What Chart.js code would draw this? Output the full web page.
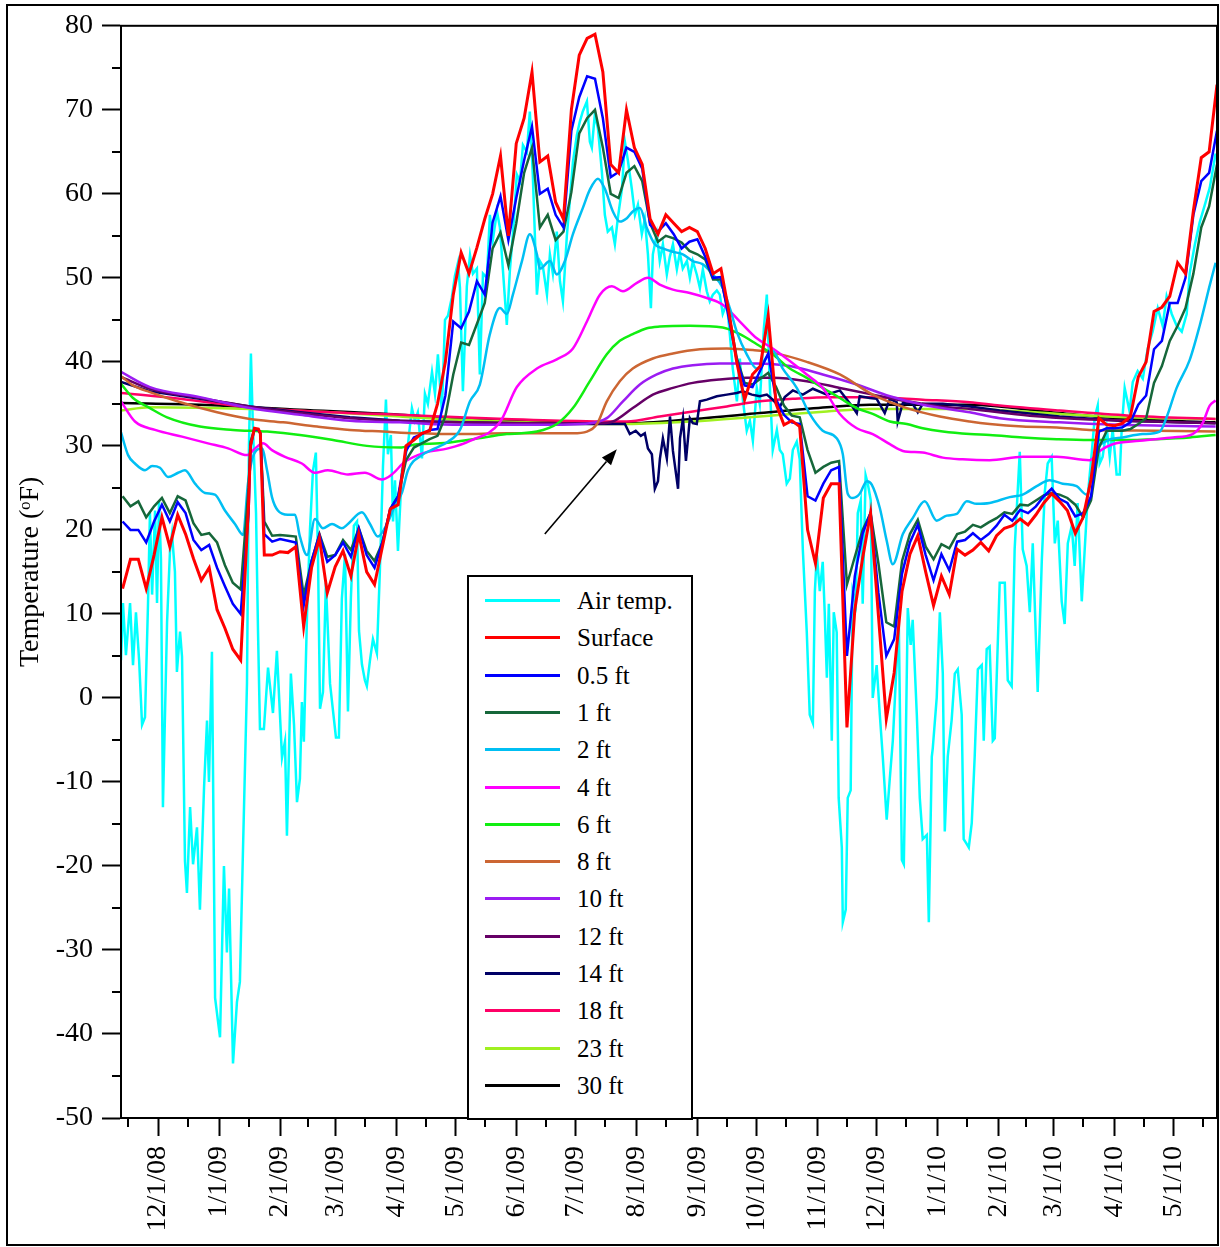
<!DOCTYPE html>
<html>
<head>
<meta charset="utf-8">
<title>Soil temperature by depth</title>
<script src="https://cdn.jsdelivr.net/npm/chart.js@4.4.1/dist/chart.umd.min.js"></script>
<style>
  html, body { margin: 0; padding: 0; background: #fff; }
  #wrap { position: relative; width: 1220px; height: 1247px; }
  #chart { position: absolute; left: 0; top: 0; }
  #legend {
    position: absolute; left: 467px; top: 575px; width: 226px; height: 545px;
    box-sizing: border-box; border: 2px solid #000; background: #fff;
    font-family: 'Liberation Serif', 'Times New Roman', serif;
  }
  .row { position: absolute; left: 0; width: 100%; height: 30px; }
  .row .swatch { position: absolute; left: 16px; top: 13px; width: 75px; height: 3px; }
  .row .txt { position: absolute; left: 108px; top: 0; font-size: 25px; line-height: 30px; color: #000; white-space: nowrap; }
</style>
</head>
<body>
<div id="wrap">
  <canvas id="chart" width="1220" height="1247"></canvas>
  <div id="legend"></div>
</div>
<script>
// x values are days counted from 12/1/2008
const xMin = -18.8;
const xMax = 538;

const monthDays = [0, 31, 62, 90, 121, 151, 182, 212, 243, 274, 304, 335, 365, 396, 427, 455, 486, 516];
const monthLabels = ['12/1/08', '1/1/09', '2/1/09', '3/1/09', '4/1/09', '5/1/09', '6/1/09', '7/1/09', '8/1/09',
  '9/1/09', '10/1/09', '11/1/09', '12/1/09', '1/1/10', '2/1/10', '3/1/10', '4/1/10', '5/1/10'];
const midMonthDays = [-15, 15, 46, 76, 105, 136, 166, 197, 227, 258, 289, 319, 350, 380, 411, 441, 470, 501, 531];
const yTicks = [-50, -40, -30, -20, -10, 0, 10, 20, 30, 40, 50, 60, 70, 80];

// air temperature
const airDays = [
  -18.8, -17.8, -16.3, -14.2, -12.7, -11.2, -9.6, -8.1, -6.6, -5.1,
  -4.1, -3.0, -1.5, -0.5, 0.5, 1.5, 2.5, 4.6, 6.1, 7.1,
  8.6, 9.6, 11.2, 12.2, 13.7, 14.7, 16.3, 17.8, 19.8, 21.3,
  23.4, 24.9, 25.9, 27.4, 29.0, 31.5, 33.5, 35.0, 36.1, 38.1,
  40.1, 41.6, 43.2, 45.2, 46.2, 47.2, 48.2, 49.8, 50.8, 51.8,
  53.8, 55.9, 58.4, 60.4, 63.0, 64.5, 65.5, 67.5, 69.1, 70.6,
  72.1, 73.1, 74.1, 75.7, 77.2, 78.7, 80.2, 81.3, 82.3, 83.8,
  85.3, 87.4, 88.9, 90.4, 91.9, 93.4, 95.0, 96.5, 98.0, 99.5,
  101.1, 102.1, 103.6, 105.1, 106.1, 107.7, 109.2, 111.2, 112.7, 114.3,
  115.8, 116.8, 118.3, 119.4, 120.4, 121.9, 123.9, 125.4, 127.0, 129.0,
  130.5, 132.0, 134.1, 135.6, 137.1, 139.2, 140.7, 142.2, 144.2, 145.8,
  147.3, 149.3, 150.8, 152.4, 153.4, 154.9, 156.9, 158.5, 160.0, 162.0,
  163.5, 165.1, 167.1, 168.6, 170.1, 172.2, 173.7, 175.2, 177.2, 178.8,
  180.3, 182.3, 183.9, 185.4, 187.4, 188.9, 190.4, 192.5, 194.0, 195.5,
  197.6, 199.1, 200.6, 202.6, 204.2, 205.7, 207.7, 209.2, 210.8, 212.8,
  214.3, 215.8, 217.9, 219.4, 220.4, 221.9, 223.5, 225.5, 227.0, 228.5,
  230.6, 232.1, 233.6, 235.7, 237.2, 238.7, 240.7, 242.3, 243.8, 245.8,
  247.3, 248.9, 250.4, 251.4, 253.4, 254.9, 256.5, 258.5, 260.0, 261.6,
  263.6, 265.1, 266.6, 268.7, 270.2, 271.7, 273.7, 275.3, 276.8, 278.8,
  280.3, 281.9, 283.9, 285.4, 286.9, 289.0, 290.5, 292.0, 294.1, 295.6,
  297.1, 299.1, 300.7, 302.2, 304.2, 305.7, 307.8, 309.3, 310.8, 312.3,
  314.4, 315.9, 317.4, 319.4, 321.0, 322.5, 324.5, 326.0, 327.6, 329.6,
  331.1, 332.7, 333.7, 334.7, 336.2, 337.7, 338.7, 339.8, 340.8, 342.3,
  343.3, 344.8, 345.8, 347.4, 347.9, 349.4, 350.4, 351.9, 352.9, 354.5,
  355.5, 357.0, 358.0, 359.5, 360.6, 362.1, 363.1, 365.1, 366.7, 368.2,
  370.2, 371.8, 373.3, 375.3, 376.3, 377.9, 378.9, 379.9, 380.9, 382.4,
  383.4, 385.5, 387.0, 388.5, 390.6, 391.6, 393.1, 393.6, 395.6, 397.2,
  398.7, 399.7, 401.2, 403.2, 404.8, 406.3, 408.3, 409.3, 410.9, 411.9,
  413.4, 414.9, 416.5, 418.5, 419.5, 421.0, 422.5, 424.1, 425.1, 427.6,
  430.2, 431.7, 433.7, 435.2, 437.8, 439.3, 441.3, 442.9, 444.4, 446.9,
  449.0, 450.5, 452.0, 454.0, 455.6, 457.1, 459.1, 460.6, 462.2, 464.2,
  465.7, 467.2, 469.3, 470.8, 472.3, 474.4, 475.9, 477.4, 478.4, 479.9,
  482.0, 483.5, 485.0, 487.0, 488.6, 489.6, 491.1, 493.6, 495.2, 497.7,
  500.3, 502.8, 505.3, 507.9, 510.4, 512.4, 515.0, 517.5, 520.1, 522.6,
  524.1, 526.7, 529.2, 531.7, 534.3, 537.3
];
const airTemp = [
  4.5, 11.3, 5.1, 11.3, 3.9, 10.2, 4.5, -3.2, -2.3, 11,
  22, 12.3, 22.3, 11.3, 23.4, 16.5, -13, 9, 17.6, 19.5,
  15, 3.1, 7.9, 4.9, -19.4, -23.2, -13, -19.8, -15.4, -25.2,
  -10.6, -2.7, -10, 5.5, -35.7, -40.4, -20, -30.3, -22.7, -43.5,
  -36.2, -33.8, -17.8, 1.7, 30, 41, 32.4, 22, 8, -3.7,
  -3.7, 3.6, -1.8, 5.6, -7.1, -5.2, -16.4, 2.9, -3.2, -12.4,
  -9.6, -0.5, -5.2, 9.8, 20, 27, 29.2, 16.5, -1.3, 0.7,
  13.7, 1.7, -1.5, -4.7, -4.7, 11.8, 17.1, -1.6, 12, 20.5,
  21, 8, 4, 2.1, 1.4, 4.5, 7, 5.3, 15, 27.6,
  35.5, 29, 31.3, 21, 25.9, 17.5, 27.1, 28.5, 30.2, 34.5,
  33, 34, 28.5, 36.2, 35, 38.8, 36.2, 40.9, 34.1, 45,
  45.5, 47.7, 50.2, 51.8, 48.8, 36.5, 49, 52.7, 50.5, 51.1,
  38.5, 50.5, 50, 57.5, 54.5, 57.9, 56, 51, 44.4, 51,
  55.2, 62.3, 61.5, 65.8, 65, 69.8, 62.3, 48, 52, 51.4,
  48, 52.8, 50.5, 55.5, 49.6, 47.2, 55, 59.1, 63.8, 67,
  68.6, 69.8, 71, 66.2, 65.5, 69.4, 67.8, 62.6, 57.5, 55.5,
  56, 54, 57.1, 60.6, 66.2, 64, 60.6, 57.5, 58.7, 55.2,
  57, 52.8, 46.4, 52.8, 55.2, 52, 54, 50.4, 52.5, 54,
  51, 53, 51.1, 52, 50, 52, 50.4, 48.8, 51, 48.4,
  47.2, 48, 48.5, 48, 45.7, 47, 43.3, 39.2, 35.3, 40.4,
  35.5, 31.8, 33, 30.6, 36.9, 35, 44, 48, 37.3, 29.5,
  31.9, 29.5, 29, 25.5, 26.1, 29.5, 30.5, 28.4, 17.6, 7.8,
  -2, -3, 12.7, 17.1, 12.7, 16.2, 10.2, 2.4, 11.2, -5.1,
  10.2, 7.8, -11.9, -17.8, -26.7, -25.2, -11.9, -11, 12.7, 11.2,
  22, 23.5, 11.2, 26.5, 25.5, 23.5, 0, 3.9, -2, -7,
  -14.5, -9.5, -5.1, 4.3, 9.8, -19.3, -19.8, -5.1, 10.7, 6.3,
  9.3, -2, -11.9, -16.8, -16.3, -26.7, -7, -6, 0, 10.2,
  2.9, -15.9, -7, -2.6, 2.9, 3.4, -2, -16.8, -17.4, -17.8,
  -14.9, -7, 3.4, 3.9, -5.1, 5.8, 6.1, -5.1, -4.8, 13.7,
  13.7, 2.1, 1.4, 17.7, 29.3, 17.7, 15.7, 10.2, 18.4, 0.7,
  16.4, 24.5, 27.9, 28.7, 18.4, 21.1, 11.5, 8.8, 18.4, 20.5,
  15.7, 23.2, 11.5, 17.7, 23.9, 29.3, 33.4, 34.8, 27.9, 28.7,
  32.1, 28.7, 32, 26.6, 26.6, 32.1, 36.9, 34.1, 37.6, 38.9,
  38, 41.6, 43.6, 46.4, 44.3, 47.8, 45.7, 44.3, 43.6, 45.7,
  50.5, 53.9, 56.6, 58.6, 60.7, 64.8
];

// surface, 0.5 ft and 1 ft share one sampling of days
const shallowDays = [
  -18, -14, -10, -6, -2, 2, 6, 10, 14, 18,
  22, 26, 30, 34, 38, 42, 46, 47, 49, 51,
  52, 54, 58, 62, 66, 70, 74, 78, 82, 86,
  90, 94, 98, 102, 106, 110, 114, 118, 122, 126,
  130, 134, 138, 142, 146, 150, 154, 158, 162, 166,
  170, 174, 178, 182, 186, 190, 194, 198, 202, 206,
  210, 214, 218, 222, 226, 230, 234, 238, 242, 246,
  250, 254, 258, 262, 266, 270, 274, 278, 282, 286,
  290, 294, 298, 302, 306, 310, 314, 318, 322, 326,
  330, 334, 338, 342, 346, 350, 354, 358, 362, 366,
  370, 374, 378, 382, 386, 390, 394, 398, 402, 406,
  410, 414, 418, 422, 426, 430, 434, 438, 442, 446,
  450, 454, 458, 462, 466, 470, 474, 478, 482, 486,
  490, 494, 498, 502, 506, 510, 514, 518, 522, 526,
  530, 534, 538
];
const surfaceTemp = [
  13, 16.5, 16.5, 13, 17, 21.5, 18, 21.8, 19.5, 16.6,
  14, 15.5, 10.5, 8.3, 5.8, 4.5, 23, 30, 32.1, 32,
  31.5, 17, 17, 17.4, 17.3, 18, 8.5, 15.5, 19, 12.5,
  15.6, 17.5, 14.5, 19.5, 15, 13.5, 18, 22.5, 23, 30,
  30.7, 31.5, 31.8, 35, 40, 48, 53, 50.5, 53.6, 57,
  60, 64.5, 55, 66, 69, 74.5, 63.8, 64.5, 59, 57,
  70, 76.5, 78.5, 79, 74.5, 63.5, 62.5, 70, 65.5, 63.5,
  57, 55.2, 57.5, 56.5, 55.5, 56, 55.5, 53.5, 50.5, 51.1,
  46, 40, 35.5, 38.5, 39.5, 45.5, 35, 32.5, 33, 32.3,
  20, 16, 23.8, 25.5, 25.5, -3.5, 10.5, 16.7, 22, 9.8,
  -2.5, 3, 12.7, 17.1, 19.3, 15, 11, 14.5, 12.3, 17.7,
  17, 17.6, 18.5, 17.5, 19.3, 20.2, 20.5, 21.3, 20.6, 21.8,
  23.2, 24.3, 23.4, 22.3, 19.6, 21.5, 26, 33.3, 32.5, 32.4,
  32.7, 33.5, 38.2, 40, 46, 46.5, 47.8, 51.8, 50.5, 58,
  64.3, 65, 73
];
const ft05Temp = [
  21, 20, 20, 18.5, 21, 23, 21, 23.3, 22, 18.8,
  17.6, 18.2, 15.5, 13.3, 11.2, 10, 22, 30, 32, 31.9,
  31.5, 19.5, 18.6, 18.9, 18.7, 18.5, 11, 16.3, 19.4, 16.2,
  17, 18.5, 16.8, 20.2, 17, 15.5, 18.5, 22.5, 24, 29.4,
  31, 31.4, 31.9, 32, 36, 44.8, 44, 46, 49.6, 48,
  56.6, 59.7, 54.5, 59.5, 64, 68, 60, 60.6, 57.5, 56,
  67.5, 71.5, 74, 73.7, 69, 62, 62.6, 65.5, 65, 63,
  56.3, 55.5, 56.5, 55.2, 53.5, 54.3, 54.6, 52.5, 50, 50.1,
  45.2, 40.2, 37.2, 37, 39, 41, 35.5, 33.7, 32.8, 32.6,
  24, 23.5, 25.5, 27.1, 27.5, 5, 14.5, 19.6, 22, 12.5,
  5, 7, 14.8, 18.5, 20.6, 17, 14, 17.1, 15.2, 18.6,
  18.8, 19.6, 18.8, 19.5, 20.5, 21.8, 21.1, 22.4, 22, 22.8,
  24, 24.9, 23.7, 23.2, 21.6, 22, 24, 31.7, 32.1, 32.1,
  32.2, 32.8, 34.9, 36, 41.5, 42.5, 47, 47, 50, 57.5,
  61.5, 62.5, 67.5
];
const ft1Temp = [
  24, 22.8, 23.4, 21.5, 22.8, 23.8, 22, 24, 23.5, 20.8,
  19.4, 19.6, 18.5, 15.8, 13.7, 12.9, 25, 30.5, 32, 31.9,
  31.5, 21, 19.3, 19.4, 19.3, 19.2, 12.2, 16.3, 19.5, 16.8,
  17, 18.8, 17.6, 20.2, 17.5, 16.3, 18.5, 22.5, 24, 28.3,
  29.8, 30.3, 30.8, 31.2, 33.5, 38.5, 42.3, 42, 44.5, 47,
  53.5, 55.4, 51.5, 56.5, 62.5, 65.5, 56, 57.5, 54.5, 55.5,
  60.2, 67.2, 69, 70, 65.5, 60, 59.5, 62.5, 63.3, 61.5,
  56.5, 54.3, 55, 54.7, 54.2, 53.2, 52.8, 52.2, 49.8, 49.8,
  45.7, 40.5, 37.5, 37.3, 38, 38.7, 37, 34.8, 33.6, 33.4,
  29.5, 26.8, 27.5, 28, 28.2, 13.5, 16.8, 20, 22, 16,
  9, 8.5, 16.3, 19.5, 21.2, 18, 16.5, 18.3, 17.8, 19.5,
  19.8, 20.6, 20.3, 20.9, 21.4, 22.1, 21.9, 23, 22.9, 23.5,
  24.1, 24.4, 24.2, 23.8, 23, 21.5, 23.5, 29.8, 31.8, 31.8,
  31.8, 32, 32.6, 33.3, 37.5, 39.5, 42.5, 44.3, 46.4, 50.5,
  56, 58.5, 63.5
];

// 2 ft
const ft2Days = [-18.8, -15.2, -11.7, -6.6, -3, 1, 5.1, 10.2, 13.7, 18.8, 23.9, 28.9, 34, 39.1, 43.2, 45.7, 48.2, 52.8,
  55.4, 57.9, 60.9, 66, 69.6, 72.1, 75.7, 79.7, 83.8, 88.4, 93.4, 96.5, 103.6, 107.7, 111.7, 116.3, 120.4, 123.9,
  127, 134.1, 140.7, 147.3, 153.4, 158.5, 163.5, 168.6, 173.7, 177.2, 180.3, 184.9, 188.9, 192.5, 194, 199.1, 202.6,
  206.7, 210.8, 215.8, 219.4, 223.5, 227, 231.1, 234.6, 238.2, 241.2, 244.8, 248.4, 252.4, 256.5, 261.6, 266.6,
  271.7, 276.8, 281.9, 286.9, 290.5, 294, 299.1, 304.2, 312.3, 317.4, 324.5, 331.1, 337.7, 344.8, 347.9, 350.4, 353,
  356.5, 360.1, 362.6, 366.7, 370.2, 373.3, 378.4, 383.4, 389.5, 395.6, 400.7, 405.8, 410.9, 415.9, 422.5, 432.7,
  439.3, 446.4, 453, 459.6, 466.7, 471.8, 474.3, 476.9, 482, 490.1, 500.3, 508.9, 512.4, 517.5, 524.1, 529.2, 534.3, 537.3];
const ft2Temp = [31.6, 28.9, 27.9, 27.1, 27.6, 27.4, 26.3, 26.8, 27.1, 25.5, 24.4, 24.2, 22.3, 20.7, 19.4, 25.5, 28.7, 29.7,
  27.1, 23.9, 22.3, 21.8, 21.8, 19.2, 17, 21.3, 20.2, 20.7, 20.2, 20.7, 22.1, 20.7, 19.2, 20.7, 22.9, 24.4,
  27.1, 28.9, 29.7, 30.5, 31.9, 35.3, 37.3, 43.3, 46.4, 45.7, 48, 52, 55.2, 52.8, 51.1, 52, 50.4,
  52, 55.2, 58.3, 60.5, 61.8, 60.6, 57.9, 56.7, 57.1, 57.9, 58.3, 55.9, 54, 53.5, 53.1, 52.8,
  52, 51.6, 50.4, 48.8, 46.4, 43.6, 40.9, 39.2, 41.3, 39.2, 36.9, 33.8, 31.8, 30.9, 29, 24.3, 23.8,
  24.3, 25.8, 25.4, 22.6, 18.7, 15.9, 19.5, 21.4, 23.4, 21.1, 21.7, 21.9, 23.4, 23.1, 23.2, 23.9,
  24.2, 25.2, 25.9, 25.5, 25.2, 24.2, 26.6, 29.3, 30.6, 31, 31.4, 31.7, 33.4, 36.9, 40.2, 44.3, 49.1, 51.8];

// 4 ft
const ft4Days = [-18.8, -11.7, -1.5, 12.2, 25.4, 35.6, 45.2, 49.3, 53.3, 57.9, 64.5, 73.1, 79.7, 86.3, 96.5, 105.1, 113.8,
  118.8, 125.4, 135.6, 147.3, 158.5, 173.7, 182.3, 192.5, 202.6, 210.8, 217.9, 224.5, 230.6, 236.2, 243.3, 248.9,
  254.9, 261.6, 270.2, 278.8, 286.9, 295.6, 304.2, 312.3, 321, 329.6, 337.7, 346.4, 355, 363.1, 371.8, 378.4,
  388.5, 398.7, 408.8, 422.5, 439.3, 456.6, 473.3, 478.4, 485, 498.7, 515.5, 525.6, 530.7, 534.3, 537.3];
const ft4Temp = [35.3, 32.9, 31.9, 31.1, 30.3, 29.7, 28.9, 29.7, 30.3, 29.5, 28.7, 27.9, 26.8, 27.1, 26.6, 26.8, 26,
  26.6, 28.1, 29.2, 29.7, 30.6, 32.8, 37, 39.2, 40.3, 41.6, 44.8, 48, 49, 48.4, 49.4, 50,
  49.2, 48.6, 48.2, 47.6, 46.8, 44.8, 42.8, 41.6, 40.1, 38.5, 36.9, 33.8, 32.1, 31.4, 30.2, 29.4,
  29.2, 28.6, 28.4, 28.3, 28.7, 28.7, 28.3, 29.4, 30.2, 30.6, 31, 31.4, 32.7, 34.8, 35.4];

// 6 ft
const ft6Days = [-18.8, -12.7, -4.1, 4.6, 21.3, 38.1, 55.4, 72.1, 88.9, 106.1, 122.9, 131.5, 143.2, 160, 177.2, 192.5,
  202.6, 210.8, 219.4, 228, 234.6, 241.2, 248.4, 254.9, 270.2, 286.9, 295.6, 304.2, 312.3, 321, 329.6, 337.7, 346.4,
  355, 363.1, 371.8, 380.4, 388.5, 398.7, 412.4, 422.5, 439.3, 456.6, 473.3, 490.1, 507.4, 524.1, 537.3];
const ft6Temp = [37.4, 35.7, 34.5, 33.4, 32.3, 31.9, 31.7, 31.3, 30.7, 30, 29.8, 30.2, 30.3, 30.8, 31.4, 31.7,
  32.6, 34.5, 37.7, 40.9, 42.5, 43.3, 44, 44.2, 44.3, 44.1, 43.3, 42.1, 40.9, 39.2, 38.1, 36.9, 35.7,
  34.5, 33.8, 32.9, 32.6, 32.1, 31.7, 31.4, 31.3, 31, 30.8, 30.7, 30.7, 30.8, 31, 31.3];

// 8 ft
const ft8Days = [-18.8, -12.7, -4.1, 12.7, 30, 46.7, 63.5, 80.8, 97.5, 114.3, 131.5, 153.4, 177.2, 210.8, 217.9, 223,
  228, 234.6, 241.2, 251.4, 261.6, 275.3, 289, 302.2, 312.3, 329.6, 346.4, 363.1, 380.4, 397.2, 412.4, 422.5, 439.3,
  456.6, 473.3, 507.4, 537.3];
const ft8Temp = [38.3, 37.2, 36.4, 35.1, 34, 33.2, 32.8, 32.3, 31.9, 31.7, 31.5, 31.4, 31.5, 31.5, 31.7, 32.6,
  35.3, 37.7, 39.2, 40.4, 41, 41.5, 41.6, 41.4, 41.1, 40, 38.5, 36.1, 34.5, 33.5, 32.9, 32.6, 32.3,
  32.2, 31.9, 31.8, 31.7];

// 10 ft
const ft10Days = [-18.8, -4.1, 21.3, 46.7, 72.1, 97.5, 122.9, 153.4, 194, 219.4, 228, 236.2, 244.8, 253.4, 261.6, 271.7,
  285.4, 304.2, 321, 337.7, 355, 371.8, 388.5, 412.4, 427.6, 458, 488.5, 537.3];
const ft10Temp = [38.8, 37, 35.8, 34.5, 33.7, 33, 32.8, 32.5, 32.5, 32.7, 33.3, 35.3, 37.3, 38.5, 39.2, 39.6,
  39.8, 39.8, 39.5, 38.5, 37.3, 35.9, 34.9, 34, 33.3, 32.8, 32.5, 32.3];

// 12 ft
const ft12Days = [-18.8, -4.1, 21.3, 46.7, 72.1, 97.5, 122.9, 153.4, 204.2, 224.5, 231.1, 241.2, 251.4, 261.6, 271.7,
  285.4, 299.1, 312.3, 329.6, 346.4, 363.1, 380.4, 397.2, 412.4, 442.9, 478.4, 537.3];
const ft12Temp = [38.2, 36.8, 35.7, 34.7, 33.9, 33.3, 33, 32.8, 32.7, 32.7, 32.9, 34.5, 36.1, 36.9, 37.5,
  37.9, 38.1, 38.1, 37.7, 36.9, 36.1, 35.3, 34.7, 34.4, 33.6, 33.1, 32.7];

// 14 ft
const ft14Days = [-18.8, -4.1, 21.3, 46.7, 72.1, 97.5, 122.9, 153.4, 204.2, 237.2, 239.7, 242.7, 245.3, 247.3, 248.9,
  250.9, 252.4, 254, 255, 256.5, 258.5, 260.1, 261.6, 264.2, 265.2, 266.7, 268.2, 270.2, 271.7, 273.7, 275.3, 278.8,
  283.9, 289, 294, 297.1, 301.7, 305.7, 309.3, 312.3, 315.8, 318.4, 322.5, 327.6, 332.7, 339.8, 346.4, 353, 355,
  356.5, 361.6, 365.1, 369.2, 371.8, 375.3, 375.8, 378.4, 383.4, 386, 388.5, 398.7, 412.4, 427.6, 458, 488.5, 537.3];
const ft14Temp = [37.6, 36.5, 35.6, 34.7, 34, 33.4, 33, 32.8, 32.6, 32.6, 31.4, 31.8, 31.2, 31.5, 29.7,
  29, 24.9, 25.8, 28.5, 30.9, 28.5, 33.5, 29.4, 24.9, 30.9, 33.3, 28.2, 33.3, 32.7, 32.6, 35.3, 35.5,
  35.9, 36.1, 36.3, 36.5, 36.1, 35.9, 36.1, 35.5, 34.6, 35.8, 36.6, 36.1, 36.8, 36.1, 36.6, 34.6, 33.9,
  35.9, 35.7, 35.6, 33.9, 35.6, 35.2, 32.9, 35.1, 35, 34, 35, 35, 34.7, 34.2, 33.5, 33, 32.7];

// 18 ft
const ft18Days = [-18.8, 11.2, 46.7, 87.4, 122.9, 153.4, 204.2, 238.2, 254.9, 271.7, 289, 305.7, 322.5, 341.3, 361.6,
  388.5, 412.4, 427.6, 458, 493.6, 537.3];
const ft18Temp = [36.3, 35.6, 34.6, 34, 33.7, 33.4, 33, 32.9, 33.5, 34.1, 34.7, 35.3, 35.6, 35.8, 35.8,
  35.5, 35.2, 34.8, 34.2, 33.6, 33.2];

// 23 ft
const ft23Days = [-18.8, -4.1, 46.7, 87.4, 122.9, 153.4, 204.2, 238.2, 271.7, 305.7, 339.8, 361.6, 412.4, 458, 493.6, 537.3];
const ft23Temp = [34.2, 34.6, 34.4, 34, 33.5, 33.1, 32.7, 32.6, 32.9, 33.5, 34.1, 34.4, 34.4, 33.8, 33.4, 33.2];

// 30 ft
const ft30Days = [-18.8, 21.3, 72.1, 122.9, 153.4, 204.2, 238.2, 271.7, 305.7, 339.8, 361.6, 412.4, 458, 493.6, 537.3];
const ft30Temp = [35.1, 34.9, 34.3, 33.7, 33.2, 32.8, 32.7, 33.2, 33.9, 34.6, 34.9, 34.9, 33.9, 33.2, 32.8];

// arrow pointing at the 14 ft dip (data units)
const arrowFrom = [196.5, 19.5];
const arrowTo = [233.1, 29.6];

const series = [
  { label: 'Air temp.', color: '#00ffff', days: airDays, temps: airTemp, order: 20 },
  { label: 'Surface', color: '#ff0000', days: shallowDays, temps: surfaceTemp, order: 1, width: 3 },
  { label: '0.5 ft', color: '#0000ff', days: shallowDays, temps: ft05Temp, order: 2 },
  { label: '1 ft', color: '#16673a', days: shallowDays, temps: ft1Temp, order: 3 },
  { label: '2 ft', color: '#00bff3', days: ft2Days, temps: ft2Temp, order: 4, smooth: true },
  { label: '4 ft', color: '#ff00ff', days: ft4Days, temps: ft4Temp, order: 5, smooth: true },
  { label: '6 ft', color: '#11ee11', days: ft6Days, temps: ft6Temp, order: 6, smooth: true },
  { label: '8 ft', color: '#cc6633', days: ft8Days, temps: ft8Temp, order: 7, smooth: true },
  { label: '10 ft', color: '#9b1cf2', days: ft10Days, temps: ft10Temp, order: 8, smooth: true },
  { label: '12 ft', color: '#660066', days: ft12Days, temps: ft12Temp, order: 9, smooth: true },
  { label: '14 ft', color: '#000066', days: ft14Days, temps: ft14Temp, order: 10 },
  { label: '18 ft', color: '#ff0066', days: ft18Days, temps: ft18Temp, order: 11, smooth: true },
  { label: '23 ft', color: '#a0f020', days: ft23Days, temps: ft23Temp, order: 12, smooth: true },
  { label: '30 ft', color: '#000000', days: ft30Days, temps: ft30Temp, order: 13, smooth: true }
];

const serif = "'Liberation Serif', 'Times New Roman', serif";

// minor ticks, frames and the arrow
const extrasPlugin = {
  id: 'extras',
  beforeDraw(chart) {
    const ctx = chart.ctx;
    ctx.save();
    ctx.strokeStyle = '#000';
    ctx.lineWidth = 2;
    ctx.strokeRect(7, 5, 1211, 1240);
    ctx.restore();
  },
  afterDraw(chart) {
    const ctx = chart.ctx;
    const area = chart.chartArea;
    const xs = chart.scales.x;
    const ys = chart.scales.y;
    ctx.save();
    ctx.strokeStyle = '#000';
    ctx.lineWidth = 2;
    ctx.strokeRect(area.left, area.top, area.right - area.left, area.bottom - area.top);

    ctx.beginPath();
    midMonthDays.forEach(d => {
      const px = Math.round(xs.getPixelForValue(d));
      ctx.moveTo(px, area.bottom);
      ctx.lineTo(px, area.bottom + 9);
    });
    for (let v = -45; v < 80; v += 10) {
      const py = Math.round(ys.getPixelForValue(v));
      ctx.moveTo(area.left - 9, py);
      ctx.lineTo(area.left, py);
    }
    ctx.stroke();

    // arrow
    const x1 = xs.getPixelForValue(arrowFrom[0]), y1 = ys.getPixelForValue(arrowFrom[1]);
    const x2 = xs.getPixelForValue(arrowTo[0]), y2 = ys.getPixelForValue(arrowTo[1]);
    const ang = Math.atan2(y2 - y1, x2 - x1);
    const head = 16, half = 6;
    const bx = x2 - head * Math.cos(ang), by = y2 - head * Math.sin(ang);
    ctx.lineWidth = 1.6;
    ctx.beginPath();
    ctx.moveTo(x1, y1);
    ctx.lineTo(bx, by);
    ctx.stroke();
    ctx.fillStyle = '#000';
    ctx.beginPath();
    ctx.moveTo(x2, y2);
    ctx.lineTo(bx + half * Math.sin(ang), by - half * Math.cos(ang));
    ctx.lineTo(bx - half * Math.sin(ang), by + half * Math.cos(ang));
    ctx.closePath();
    ctx.fill();
    ctx.restore();
  }
};

const datasets = series.map(s => ({
  label: s.label,
  data: s.days.map((d, i) => ({ x: d, y: s.temps[i] })),
  borderColor: s.color,
  backgroundColor: s.color,
  borderWidth: s.width || 2.5,
  pointRadius: 0,
  fill: false,
  tension: 0,
  cubicInterpolationMode: s.smooth ? 'monotone' : 'default',
  order: s.order
}));

new Chart(document.getElementById('chart'), {
  type: 'line',
  data: { datasets: datasets },
  options: {
    responsive: false,
    animation: false,
    parsing: true,
    layout: { padding: { left: 0, top: 24, right: 3, bottom: 0 } },
    plugins: { legend: { display: false }, tooltip: { enabled: false } },
    scales: {
      x: {
        type: 'linear',
        min: xMin,
        max: xMax,
        afterBuildTicks: scale => { scale.ticks = monthDays.map(v => ({ value: v })); },
        afterFit: scale => { scale.height = 129; },
        ticks: {
          autoSkip: false,
          minRotation: 90,
          maxRotation: 90,
          padding: 10,
          color: '#000',
          font: { family: serif, size: 28 },
          callback: v => {
            const i = monthDays.indexOf(v);
            return i >= 0 ? monthLabels[i] : '';
          }
        },
        grid: { drawOnChartArea: false, tickLength: 18, tickWidth: 2, tickColor: '#000' },
        border: { color: '#000', width: 2 }
      },
      y: {
        min: -50,
        max: 80,
        afterBuildTicks: scale => { scale.ticks = yTicks.map(v => ({ value: v })); },
        afterFit: scale => { scale.width = 121; },
        title: {
          display: true,
          text: 'Temperature (\u1D52F)',
          color: '#000',
          font: { family: serif, size: 28 },
          padding: { top: 14, bottom: 0 }
        },
        ticks: { padding: 9, color: '#000', font: { family: serif, size: 28 } },
        grid: { drawOnChartArea: false, tickLength: 19, tickWidth: 2, tickColor: '#000' },
        border: { color: '#000', width: 2 }
      }
    }
  },
  plugins: [extrasPlugin]
});

// legend box drawn as html, same order as the series
const legendEl = document.getElementById('legend');
series.forEach((s, i) => {
  const row = document.createElement('div');
  row.className = 'row';
  row.style.top = (9 + i * 37.3) + 'px';
  row.innerHTML = `<span class="swatch" style="background:${s.color}"></span><span class="txt">${s.label}</span>`;
  legendEl.appendChild(row);
});
</script>
</body>
</html>
